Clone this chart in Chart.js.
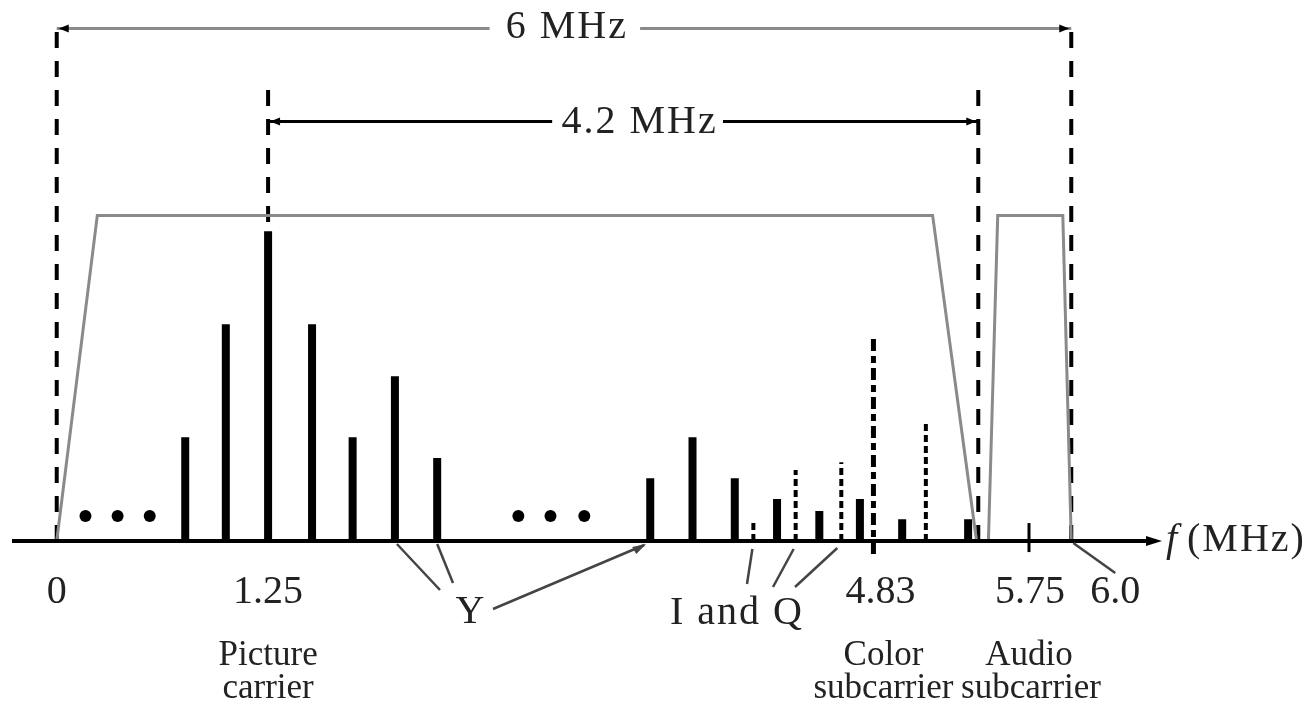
<!DOCTYPE html>
<html>
<head>
<meta charset="utf-8">
<script src="https://cdn.jsdelivr.net/npm/chart.js@4.4.1/dist/chart.umd.min.js"></script>
<style>
html,body{margin:0;padding:0;background:#fff;}
#wrap{width:1314px;height:701px;}
</style>
</head>
<body>
<div id="wrap"><canvas id="spectrum" width="1314" height="701"></canvas></div>
<script>
// frequencies in MHz, amplitudes in relative units (carrier envelope = 100)
const lumaFreqs = [0.76, 1.0, 1.25, 1.51, 1.75, 2.0, 2.25, 3.51, 3.76, 4.01, 4.26, 4.51, 4.75, 5.0, 5.39];
const lumaHeights = [31.9, 66.6, 95.1, 66.6, 31.9, 50.6, 25.5, 19.3, 31.9, 19.3, 12.9, 9.2, 12.9, 6.7, 6.7];
const chromaFreqs = [4.12, 4.37, 4.64, 5.14];
const chromaHeights = [6.7, 21.8, 24.2, 36.8];
const colorCarrier = [4.83];
const colorCarrierRange = [62.9, -4];
const audioCarrier = [5.75];
const audioCarrierRange = [5.5, -3.4];
const videoEnvFreqs = [0, 0.24, 5.18, 5.44];
const videoEnvLevels = [0, 100, 100, 0];
const audioEnvFreqs = [5.51, 5.565, 5.95, 6.0];
const audioEnvLevels = [0, 100, 100, 0];
const dotFreqs = [0.17, 0.36, 0.55, 2.73, 2.92, 3.12];
const dotLevel = 7.7;
const channelEdges = [0, 6.0];
const channelEdgeTop = 159.2;
const videoEdges = [1.25, 5.45];
const videoEdgeTop = 139.6;
const channelSpan = [0, 2.56, 3.45, 6.0];   // line pieces either side of the "6 MHz" text
const channelSpanLevel = 157.4;
const videoSpan = [1.25, 2.93, 3.94, 5.45];
const videoSpanLevel = 128.8;
const tickValues = [0, 1.25, 4.83, 5.75, 6.0];
const tickLabels = ["0", "1.25", "4.83", "5.75", "6.0"];

function sticks(xs, tops, bottom) {
  const out = [];
  xs.forEach((x, i) => {
    out.push({x: x, y: bottom === undefined ? 0 : bottom[i]});
    out.push({x: x, y: tops[i]});
    out.push({x: x, y: null});
  });
  return out;
}
function pairs(xs, ys) {
  return xs.map((x, i) => ({x: x, y: ys[i]}));
}
function spans(xs, level) {
  return [{x: xs[0], y: level}, {x: xs[1], y: level}, {x: xs[1], y: null},
          {x: xs[2], y: level}, {x: xs[3], y: level}];
}

const SERIF = "'Liberation Serif', 'Times New Roman', serif";

const decorations = {
  id: "decorations",
  afterDatasetsDraw(chart) {
    const c = chart.ctx, xs = chart.scales.x, ys = chart.scales.y;
    const px = v => xs.getPixelForValue(v), py = v => ys.getPixelForValue(v);
    const base = py(0);
    c.save();
    c.fillStyle = "#000";
    c.strokeStyle = "#000";

    // frequency axis with arrow
    c.lineWidth = 4;
    c.beginPath(); c.moveTo(12, base); c.lineTo(1152, base); c.stroke();
    c.beginPath(); c.moveTo(1162, base); c.lineTo(1146, base - 5); c.lineTo(1146, base + 5); c.closePath(); c.fill();

    // arrowheads on the span lines
    function head(x, y, dir) {
      c.beginPath(); c.moveTo(x, y); c.lineTo(x + dir * 10, y - 4); c.lineTo(x + dir * 10, y + 4); c.closePath(); c.fill();
    }
    head(px(channelSpan[0]) + 2, py(channelSpanLevel), 1);
    head(px(channelSpan[3]) - 2, py(channelSpanLevel), -1);
    head(px(videoSpan[0]) + 2, py(videoSpanLevel), 1);
    head(px(videoSpan[3]) - 2, py(videoSpanLevel), -1);

    c.fillStyle = "#222";
    c.textAlign = "center";
    c.textBaseline = "alphabetic";
    c.font = "40px " + SERIF;
    c.letterSpacing = "2px";
    c.fillText("6 MHz", (px(channelSpan[1]) + px(channelSpan[2])) / 2 + 2, py(channelSpanLevel) + 10);
    c.fillText("4.2 MHz", (px(videoSpan[1]) + px(videoSpan[2])) / 2 + 2, py(videoSpanLevel) + 11);
    c.letterSpacing = "0px";

    // tick labels
    const shift = {"4.83": 7, "5.75": 1, "6.0": 44};
    tickValues.forEach((v, i) => {
      c.fillText(tickLabels[i], px(v) + (shift[tickLabels[i]] || 0), base + 62);
    });

    // pointers
    c.strokeStyle = "#444";
    c.lineWidth = 2.5;
    function seg(x1, y1, x2, y2) { c.beginPath(); c.moveTo(x1, y1); c.lineTo(x2, y2); c.stroke(); }
    seg(px(2.0) + 2, base + 3, 440, base + 49);
    seg(px(2.25), base + 3, 453, base + 42);
    seg(493, base + 68, px(3.51) - 6, base + 4);
    c.fillStyle = "#444";
    c.beginPath(); c.moveTo(px(3.51) - 4, base + 3); c.lineTo(px(3.51) - 18, base + 6); c.lineTo(px(3.51) - 14, base + 13); c.closePath(); c.fill();
    seg(747, base + 43, px(chromaFreqs[0]) - 1, base + 8);
    seg(773, base + 46, px(chromaFreqs[1]) - 2, base + 8);
    seg(795, base + 46, px(chromaFreqs[2]) - 4, base + 7);
    seg(px(6.0) + 2, base + 2, px(6.0) + 44, base + 32);

    c.fillStyle = "#222";
    c.fillText("Y", 470, base + 82);
    c.letterSpacing = "2px";
    c.fillText("I and Q", 737, base + 83);
    c.letterSpacing = "0px";

    c.font = "35px " + SERIF;
    c.fillText("Picture", px(1.25), base + 124);
    c.fillText("carrier", px(1.25), base + 157);
    c.fillText("Color", px(4.83) + 10, base + 124);
    c.fillText("subcarrier", px(4.83) + 10, base + 157);
    c.fillText("Audio", px(5.75), base + 124);
    c.fillText("subcarrier", px(5.75) + 2, base + 157);

    c.textAlign = "left";
    c.font = "italic 40px " + SERIF;
    c.fillText("f", 1166, base + 10);
    c.font = "40px " + SERIF;
    c.letterSpacing = "2px";
    c.fillText("(MHz)", 1187, base + 10);
    c.restore();
  }
};

new Chart(document.getElementById("spectrum"), {
  type: "line",
  data: {
    datasets: [
      {data: pairs(videoEnvFreqs, videoEnvLevels), borderColor: "#8a8a8a", borderWidth: 3},
      {data: pairs(audioEnvFreqs, audioEnvLevels), borderColor: "#8a8a8a", borderWidth: 3},
      {data: sticks(channelEdges, channelEdges.map(() => channelEdgeTop)), borderColor: "#000", borderWidth: 4, borderDash: [16, 13]},
      {data: sticks(videoEdges, videoEdges.map(() => videoEdgeTop)), borderColor: "#000", borderWidth: 4, borderDash: [16, 13]},
      {data: sticks(lumaFreqs, lumaHeights), borderColor: "#000", borderWidth: 8},
      {data: sticks(chromaFreqs, chromaHeights), borderColor: "#000", borderWidth: 4, borderDash: [7, 4]},
      {data: sticks(colorCarrier, [colorCarrierRange[0]], [colorCarrierRange[1]]), borderColor: "#000", borderWidth: 5, borderDash: [12, 5, 7, 5]},
      {data: sticks(audioCarrier, [audioCarrierRange[0]], [audioCarrierRange[1]]), borderColor: "#000", borderWidth: 3},
      {data: spans(channelSpan, channelSpanLevel), borderColor: "#8a8a8a", borderWidth: 3},
      {data: spans(videoSpan, videoSpanLevel), borderColor: "#000", borderWidth: 3},
      {data: pairs(dotFreqs, dotFreqs.map(() => dotLevel)), showLine: false, pointRadius: 6,
       pointBackgroundColor: "#000", pointBorderWidth: 0}
    ]
  },
  options: {
    responsive: false,
    animation: false,
    devicePixelRatio: 1,
    layout: {padding: {left: 5, right: 0, top: 20, bottom: 160}},
    datasets: {line: {clip: false, pointRadius: 0, tension: 0, borderCapStyle: "butt", spanGaps: false}},
    plugins: {legend: {display: false}, tooltip: {enabled: false}},
    scales: {
      x: {type: "linear", min: -0.3, max: 7.4, display: false},
      y: {type: "linear", min: 0, max: 160, display: false}
    }
  },
  plugins: [decorations]
});
</script>
</body>
</html>
